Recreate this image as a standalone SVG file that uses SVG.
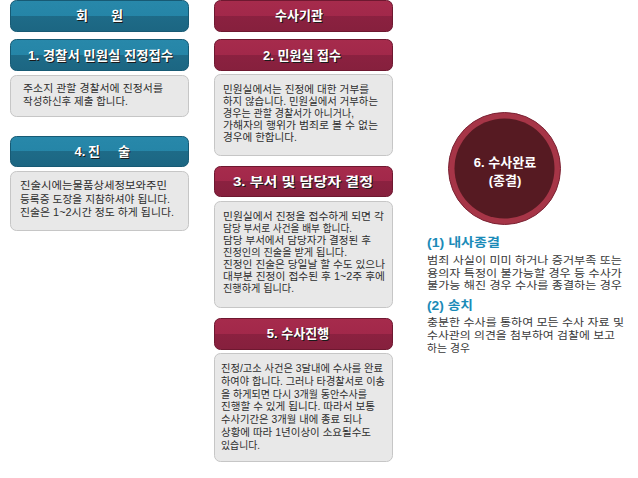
<svg xmlns="http://www.w3.org/2000/svg" width="638" height="478" viewBox="0 0 638 478">
<defs>
<linearGradient id="gBlue" x1="0" y1="0" x2="0" y2="1">
<stop offset="0" stop-color="#2888aa"/><stop offset="0.5" stop-color="#2585a7"/><stop offset="0.5" stop-color="#1e6b88"/><stop offset="1" stop-color="#1c6682"/>
</linearGradient>
<linearGradient id="gRed" x1="0" y1="0" x2="0" y2="1">
<stop offset="0" stop-color="#a62b4c"/><stop offset="0.5" stop-color="#a2284a"/><stop offset="0.5" stop-color="#8b2140"/><stop offset="1" stop-color="#86203d"/>
</linearGradient>
<style>
.blue{fill:url(#gBlue);stroke:#175a74;stroke-width:1}
.red{fill:url(#gRed);stroke:#6e1830;stroke-width:1}
.gray{fill:#e8e8e8;stroke:#c6c6c6;stroke-width:1}
.ht{font-family:"Liberation Sans","Noto Sans CJK KR",sans-serif;font-size:13px;font-weight:bold;fill:#ffffff;text-anchor:middle}
.hs{font-family:"Liberation Sans","Noto Sans CJK KR",sans-serif;font-size:13px;font-weight:bold;fill:#1a1a1a;text-anchor:middle}
.bt{font-family:"Liberation Sans","Noto Sans CJK KR",sans-serif;font-size:10.5px;fill:#2e2e2e}
.rt{font-family:"Liberation Sans","Noto Sans CJK KR",sans-serif;font-size:10.5px;fill:#3a3a3a}
.rh{font-family:"Liberation Sans","Noto Sans CJK KR",sans-serif;font-size:12px;font-weight:bold;fill:#1b8bb8}
.ct{font-family:"Liberation Sans","Noto Sans CJK KR",sans-serif;font-size:13px;font-weight:bold;fill:#ffffff;text-anchor:middle}
</style>
</defs>

<g id="member-header">
<rect class="blue" x="10.5" y="0.5" width="178" height="31" rx="6"/>
<text class="hs" x="83" y="21">회</text><text class="ht" x="82" y="20">회</text>
<text class="hs" x="118" y="21">원</text><text class="ht" x="117" y="20">원</text>
</g>

<g id="step1">
<rect class="blue" x="10.5" y="39.5" width="178" height="31" rx="6"/>
<text class="hs" x="101.5" y="60.5" textLength="145" lengthAdjust="spacingAndGlyphs">1. 경찰서 민원실 진정접수</text>
<text class="ht" x="100.5" y="59.5" textLength="145" lengthAdjust="spacingAndGlyphs">1. 경찰서 민원실 진정접수</text>
</g>
<g id="step1-desc">
<rect class="gray" x="10.5" y="75.5" width="178" height="41" rx="6"/>
<text class="bt"><tspan x="23" y="92" textLength="140" lengthAdjust="spacingAndGlyphs">주소지 관할 경찰서에 진정서를</tspan><tspan x="23" y="105" textLength="105" lengthAdjust="spacingAndGlyphs">작성하신후 제출 합니다.</tspan></text>
</g>

<g id="step4">
<rect class="blue" x="10.5" y="136.5" width="178" height="30" rx="6"/>
<text class="hs" x="81" y="157">4.</text><text class="ht" x="80" y="156">4.</text>
<text class="hs" x="95" y="157">진</text><text class="ht" x="94" y="156">진</text>
<text class="hs" x="125" y="157">술</text><text class="ht" x="124" y="156">술</text>
</g>
<g id="step4-desc">
<rect class="gray" x="10.5" y="171.5" width="178" height="59" rx="6"/>
<text class="bt"><tspan x="20" y="189" textLength="147" lengthAdjust="spacingAndGlyphs">진술시에는물품상세정보와주민</tspan><tspan x="20" y="203" textLength="150" lengthAdjust="spacingAndGlyphs">등록증 도장을 지참하셔야 됩니다.</tspan><tspan x="20" y="216" textLength="154" lengthAdjust="spacingAndGlyphs">진술은 1~2시간 정도 하게 됩니다.</tspan></text>
</g>

<g id="agency-header">
<rect class="red" x="214.5" y="0.5" width="178" height="31" rx="6"/>
<text class="hs" x="300" y="21">수사기관</text><text class="ht" x="299" y="20">수사기관</text>
</g>

<g id="step2">
<rect class="red" x="214.5" y="39.5" width="178" height="31" rx="6"/>
<text class="hs" x="303" y="60.5">2. 민원실 접수</text><text class="ht" x="302" y="59.5">2. 민원실 접수</text>
</g>
<g id="step2-desc">
<rect class="gray" x="214.5" y="74.5" width="178" height="81" rx="6"/>
<text class="bt"><tspan x="223" y="93" textLength="146" lengthAdjust="spacingAndGlyphs">민원실에서는 진정에 대한 거부를</tspan><tspan x="223" y="105" textLength="155" lengthAdjust="spacingAndGlyphs">하지 않습니다. 민원실에서 거부하는</tspan><tspan x="223" y="117" textLength="131" lengthAdjust="spacingAndGlyphs">경우는 관할 경찰서가 아니거나,</tspan><tspan x="223" y="129" textLength="155" lengthAdjust="spacingAndGlyphs">가해자의 행위가  범죄로 볼 수 없는</tspan><tspan x="223" y="141" textLength="74" lengthAdjust="spacingAndGlyphs">경우에 한합니다.</tspan></text>
</g>

<g id="step3">
<rect class="red" x="214.5" y="166.5" width="178" height="30" rx="6"/>
<text class="hs" x="304" y="187" textLength="140" lengthAdjust="spacingAndGlyphs">3. 부서 및 담당자 결정</text>
<text class="ht" x="303" y="186" textLength="140" lengthAdjust="spacingAndGlyphs">3. 부서 및 담당자 결정</text>
</g>
<g id="step3-desc">
<rect class="gray" x="214.5" y="201.5" width="178" height="106" rx="6"/>
<text class="bt"><tspan x="223" y="220" textLength="161" lengthAdjust="spacingAndGlyphs">민원실에서 진정을 접수하게 되면 각</tspan><tspan x="223" y="232" textLength="129" lengthAdjust="spacingAndGlyphs">담당 부서로 사건을 배부 합니다.</tspan><tspan x="223" y="244" textLength="148" lengthAdjust="spacingAndGlyphs">담당 부서에서 담당자가 결정된 후</tspan><tspan x="223" y="256" textLength="124" lengthAdjust="spacingAndGlyphs">진정인의 진술을 받게 됩니다.</tspan><tspan x="223" y="268" textLength="162" lengthAdjust="spacingAndGlyphs">진정인 진술은 당일날 할 수도 있으나</tspan><tspan x="223" y="280" textLength="162" lengthAdjust="spacingAndGlyphs">대부분 진정이 접수된 후 1~2주 후에</tspan><tspan x="223" y="292" textLength="71" lengthAdjust="spacingAndGlyphs">진행하게 됩니다.</tspan></text>
</g>

<g id="step5">
<rect class="red" x="214.5" y="318.5" width="178" height="31" rx="6"/>
<text class="hs" x="299" y="339">5. 수사진행</text><text class="ht" x="298" y="338">5. 수사진행</text>
</g>
<g id="step5-desc">
<rect class="gray" x="214.5" y="353.5" width="178" height="108" rx="6"/>
<text class="bt"><tspan x="221" y="372" textLength="162" lengthAdjust="spacingAndGlyphs">진정/고소 사건은 3달내에 수사를 완료</tspan><tspan x="221" y="385" textLength="164" lengthAdjust="spacingAndGlyphs">하여야 합니다. 그러나 타경찰서로 이송</tspan><tspan x="221" y="397.5" textLength="146" lengthAdjust="spacingAndGlyphs">을 하게되면 다시 3개월 동안수사를</tspan><tspan x="221" y="410" textLength="154" lengthAdjust="spacingAndGlyphs">진행할 수 있게 됩니다. 따라서 보통</tspan><tspan x="221" y="423" textLength="141" lengthAdjust="spacingAndGlyphs">수사기간은 3개월 내에 종료 되나</tspan><tspan x="221" y="436" textLength="150" lengthAdjust="spacingAndGlyphs">상황에 따라 1년이상이 소요될수도</tspan><tspan x="221" y="449" textLength="39" lengthAdjust="spacingAndGlyphs">있습니다.</tspan></text>
</g>

<g id="step6">
<circle cx="504.5" cy="168.5" r="56" fill="#a63547" stroke="#7a2233" stroke-width="1"/>
<circle cx="504.5" cy="168.5" r="50" fill="#561a22"/>
<text class="ct"><tspan x="505" y="167">6. 수사완료</tspan><tspan x="505" y="185">(종결)</tspan></text>
</g>

<g id="notes">
<text class="rh" x="427" y="247" textLength="73" lengthAdjust="spacingAndGlyphs">(1) 내사종결</text>
<text class="rt"><tspan x="427" y="264" textLength="195" lengthAdjust="spacingAndGlyphs">범죄 사실이 미미 하거나 증거부족 또는</tspan><tspan x="427" y="276.5" textLength="195" lengthAdjust="spacingAndGlyphs">용의자 특정이 불가능할 경우 등 수사가</tspan><tspan x="427" y="289" textLength="195" lengthAdjust="spacingAndGlyphs">불가능 해진 경우 수사를 종결하는 경우</tspan></text>
<text class="rh" x="427" y="310" textLength="46" lengthAdjust="spacingAndGlyphs">(2) 송치</text>
<text class="rt"><tspan x="427" y="326" textLength="197" lengthAdjust="spacingAndGlyphs">충분한 수사를 통하여 모든 수사 자료 및</tspan><tspan x="427" y="339" textLength="188" lengthAdjust="spacingAndGlyphs">수사관의 의견을 첨부하여 검찰에 보고</tspan><tspan x="427" y="352" textLength="43" lengthAdjust="spacingAndGlyphs">하는 경우</tspan></text>
</g>

<g id="connectors"></g>
</svg>
